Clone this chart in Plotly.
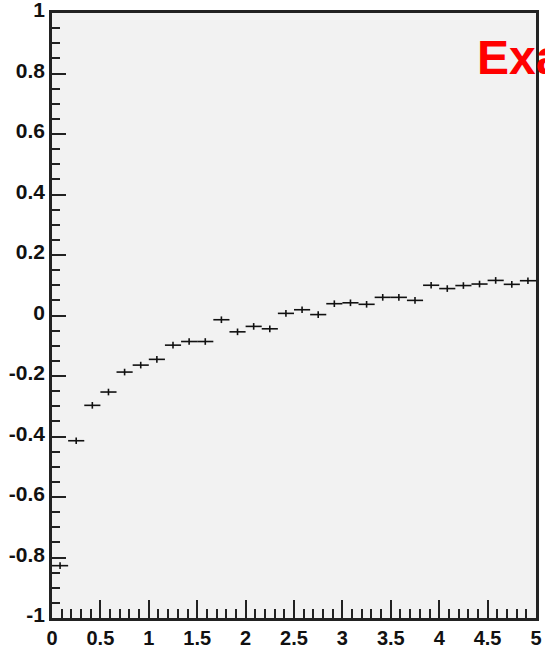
import plotly.graph_objects as go

# Histogram: 30 bins between 0 and 5
bin_edges = [i * 5 / 30 for i in range(31)]
bin_values = [-0.827, -0.414, -0.297, -0.253, -0.187, -0.164, -0.145, -0.098,
              -0.086, -0.086, -0.014, -0.054, -0.036, -0.044, 0.007, 0.019,
              0.003, 0.039, 0.042, 0.037, 0.060, 0.060, 0.050, 0.100,
              0.089, 0.099, 0.104, 0.116, 0.103, 0.115]
bin_errors = [0.011] * 30

x_tick_vals = [0, 0.5, 1, 1.5, 2, 2.5, 3, 3.5, 4, 4.5, 5]
x_tick_text = ["0", "0.5", "1", "1.5", "2", "2.5", "3", "3.5", "4", "4.5", "5"]
y_tick_vals = [-1, -0.8, -0.6, -0.4, -0.2, 0, 0.2, 0.4, 0.6, 0.8, 1]
y_tick_text = ["-1", "-0.8", "-0.6", "-0.4", "-0.2", "0", "0.2", "0.4", "0.6", "0.8", "1"]
label_text = "Example"

centers = [(bin_edges[i] + bin_edges[i + 1]) / 2 for i in range(len(bin_values))]
half_w = [(bin_edges[i + 1] - bin_edges[i]) / 2 for i in range(len(bin_values))]

fig = go.Figure()
fig.add_trace(go.Scatter(
    x=centers, y=bin_values, mode="markers",
    marker=dict(size=1, color="#111"),
    error_x=dict(type="data", array=half_w, symmetric=True, width=0,
                 thickness=1.6, color="#111"),
    error_y=dict(type="data", array=bin_errors, symmetric=True, width=0,
                 thickness=1.6, color="#111"),
    showlegend=False, cliponaxis=True,
))

y_tick_font = dict(family="Liberation Sans, Arial, sans-serif", size=21,
                   color="#111", weight="bold")
x_tick_font = dict(family="Liberation Sans, Arial, sans-serif", size=20,
                   color="#111", weight="bold")

fig.update_layout(
    template="none",
    width=545, height=646,
    margin=dict(l=52, r=9, t=13, b=28, pad=0),
    paper_bgcolor="white",
    plot_bgcolor="#f2f2f2",
    font=dict(family="Liberation Sans, Arial, sans-serif"),
    xaxis=dict(
        range=[0, 5], showgrid=False, zeroline=False, automargin=False,
        showline=True, linecolor="#222", linewidth=2.5, mirror=True,
        tickmode="array", tickvals=x_tick_vals, ticktext=x_tick_text,
        ticks="inside", ticklen=18, tickwidth=1.5, tickcolor="#222",
        minor=dict(dtick=0.1, tick0=0, ticks="inside", ticklen=9,
                   tickwidth=1.5, tickcolor="#222", showgrid=False),
        tickfont=x_tick_font, ticklabelstandoff=0, ticklabeloverflow="allow",
    ),
    yaxis=dict(
        range=[-1, 1], showgrid=False, zeroline=False, automargin=False,
        showline=True, linecolor="#222", linewidth=2.5, mirror=True,
        tickmode="array", tickvals=y_tick_vals, ticktext=y_tick_text,
        ticks="inside", ticklen=14, tickwidth=1.5, tickcolor="#222",
        minor=dict(dtick=0.05, tick0=0, ticks="inside", ticklen=8,
                   tickwidth=1.5, tickcolor="#222", showgrid=False),
        tickfont=y_tick_font, ticklabelstandoff=0, ticklabelshift=-3,
        ticklabeloverflow="allow",
    ),
    annotations=[dict(
        text="<b>" + label_text + "</b>", x=0.873, y=0.926,
        xref="paper", yref="paper", xanchor="left", yanchor="middle",
        showarrow=False, font=dict(family="Liberation Sans, Arial, sans-serif",
                                   size=48, color="#ff0000"),
    )],
)

fig.write_html(
    "out.html",
    config={"displayModeBar": False},
    post_script="document.body.style.margin='0';document.body.style.overflow='hidden';",
)
